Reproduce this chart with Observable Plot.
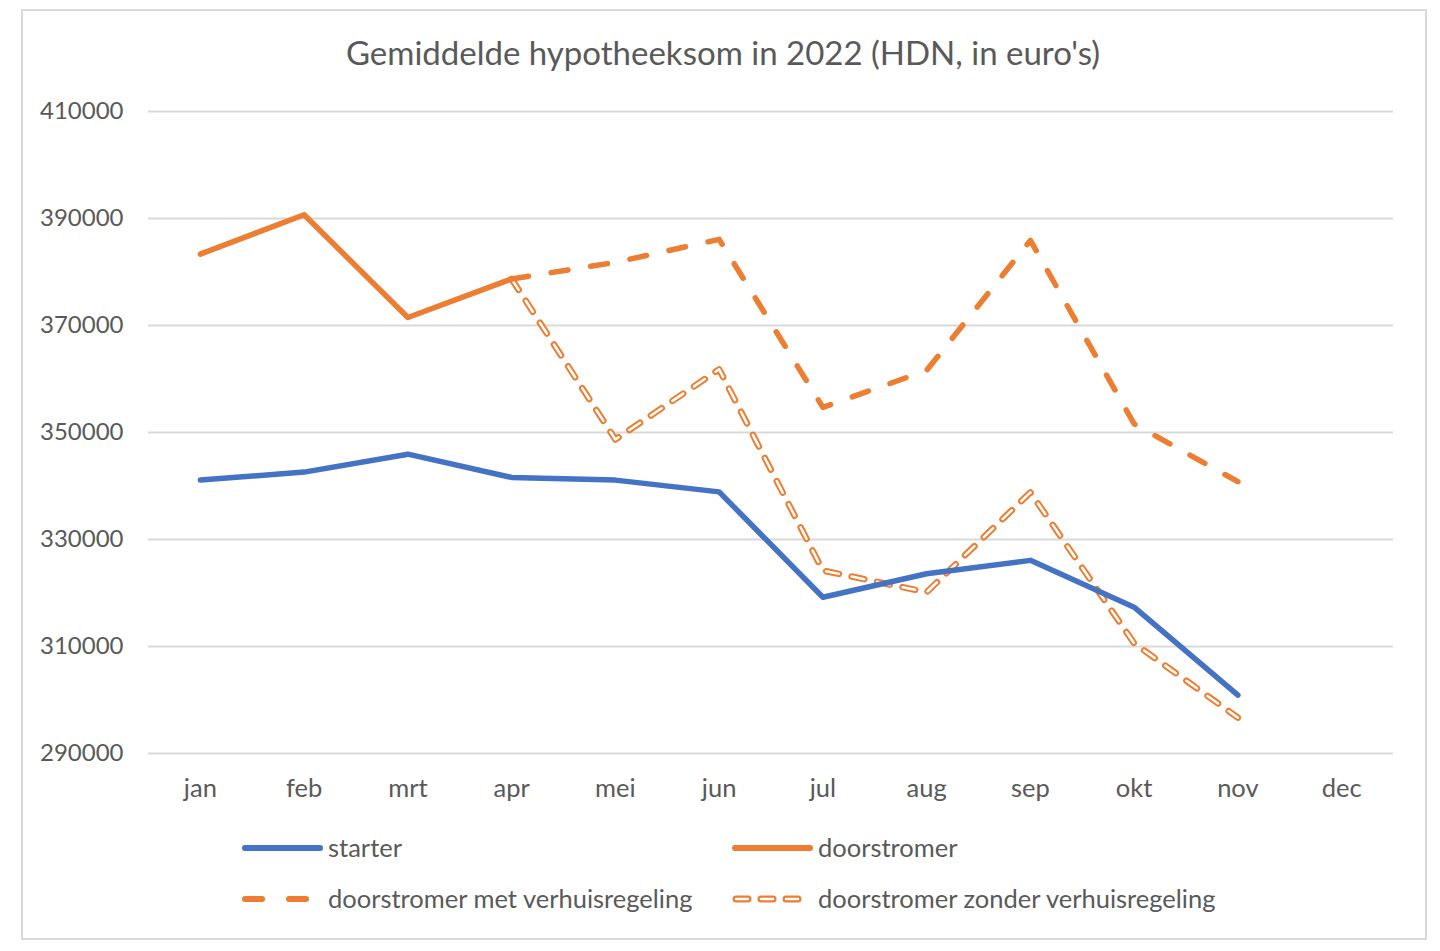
<!DOCTYPE html>
<html>
<head>
<meta charset="utf-8">
<script src="https://cdn.jsdelivr.net/npm/d3@7"></script>
<script src="https://cdn.jsdelivr.net/npm/@observablehq/plot@0.6"></script>
<style>
  html, body { margin: 0; padding: 0; background: #fff; }
  #wrap { position: relative; width: 1440px; height: 951px; font-family: Lato, "Open Sans", sans-serif; color: #595959; }
  #frame { position: absolute; left: 21px; top: 9px; width: 1402px; height: 927px; border: 2px solid #d9d9d9; box-sizing: content-box; }
  #title { position: absolute; left: 0; width: 1446px; top: 32px; text-align: center; font-size: 33px; line-height: 40px; color: #595959; }
  #chart { position: absolute; left: 0; top: 0; }
  #legend { position: absolute; left: 0; top: 0; }
</style>
</head>
<body>
<div id="wrap">
  <div id="frame"></div>
  <div id="chart"></div>
  <div id="title">Gemiddelde hypotheeksom in 2022 (HDN, in euro's)</div>
  <div id="legend"></div>
</div>
<script>
const months = ["jan", "feb", "mrt", "apr", "mei", "jun", "jul", "aug", "sep", "okt", "nov", "dec"];
const yTicks = [290000, 310000, 330000, 350000, 370000, 390000, 410000];
const starter = [341100, 342600, 345950, 341600, 341100, 338900, 319200, 323600, 326100, 317350, 300900, null];
const doorstromer = [383350, 390700, 371500, 378700, null, null, null, null, null, null, null, null];
const metVerhuis = [null, null, null, 378700, 381800, 386100, 354700, 361600, 385900, 351600, 340800, null];
const zonderVerhuis = [null, null, null, 378700, 348700, 361800, 324200, 320150, 338800, 310600, 296700, null];

const seriesNames = ["starter", "doorstromer", "doorstromer met verhuisregeling", "doorstromer zonder verhuisregeling"];
const seriesValues = [starter, doorstromer, metVerhuis, zonderVerhuis];

const rows = [];
seriesNames.forEach((name, i) => {
  seriesValues[i].forEach((v, j) => {
    if (v != null) rows.push({series: name, month: months[j], value: v});
  });
});
const sel = name => rows.filter(r => r.series === name);

const BLUE = "#4472c4", ORANGE = "#ed7d31", GRID = "#d9d9d9", TEXT = "#595959";

const plot = Plot.plot({
  width: 1440,
  height: 830,
  marginLeft: 148,
  marginRight: 47,
  marginTop: 111,
  marginBottom: 77,
  style: {fontFamily: "Lato, 'Open Sans', sans-serif", fontSize: "24px", color: TEXT, background: "transparent"},
  x: {type: "point", domain: months, padding: 0.5, round: false, label: null},
  y: {domain: [290000, 410000], label: null},
  marks: [
    Plot.gridY(yTicks, {stroke: GRID, strokeOpacity: 1, strokeWidth: 2}),
    Plot.axisY(yTicks, {tickSize: 0, tickPadding: 25, tickFormat: d3.format("d"), label: null, fill: TEXT}),
    Plot.axisX(months, {tickSize: 0, tickPadding: 25, label: null, fill: TEXT, fontSize: 25.5}),
    Plot.line(sel("doorstromer zonder verhuisregeling"), {x: "month", y: "value", stroke: ORANGE, strokeWidth: 6.5, strokeDasharray: "13,13", strokeLinecap: "round", strokeLinejoin: "round"}),
    Plot.line(sel("doorstromer zonder verhuisregeling"), {x: "month", y: "value", stroke: "#fff", strokeWidth: 2.5, strokeDasharray: "13,13", strokeLinecap: "round", strokeLinejoin: "round"}),
    Plot.line(sel("doorstromer met verhuisregeling"), {x: "month", y: "value", stroke: ORANGE, strokeWidth: 5.5, strokeDasharray: "17,23", strokeLinecap: "round", strokeLinejoin: "round"}),
    Plot.line(sel("doorstromer"), {x: "month", y: "value", stroke: ORANGE, strokeWidth: 5.5, strokeLinejoin: "round"}),
    Plot.line(sel("starter"), {x: "month", y: "value", stroke: BLUE, strokeWidth: 5.5, strokeLinejoin: "round"})
  ]
});
document.getElementById("chart").appendChild(plot);

// Legend
const legendItems = [
  {name: seriesNames[0], x: 243, y: 848, kind: "solid", color: BLUE},
  {name: seriesNames[1], x: 733, y: 848, kind: "solid", color: ORANGE},
  {name: seriesNames[2], x: 243, y: 899, kind: "dash", color: ORANGE},
  {name: seriesNames[3], x: 733, y: 899, kind: "double", color: ORANGE}
];
const svg = d3.select("#legend").append("svg").attr("width", 1440).attr("height", 951)
  .style("font-family", "Lato, 'Open Sans', sans-serif");
legendItems.forEach(it => {
  const g = svg.append("g");
  if (it.kind === "solid") {
    g.append("line").attr("x1", it.x + 2).attr("x2", it.x + 77).attr("y1", it.y).attr("y2", it.y)
      .attr("stroke", it.color).attr("stroke-width", 6).attr("stroke-linecap", "round");
  } else if (it.kind === "dash") {
    g.append("line").attr("x1", it.x + 2).attr("x2", it.x + 72).attr("y1", it.y).attr("y2", it.y)
      .attr("stroke", it.color).attr("stroke-width", 6).attr("stroke-linecap", "round").attr("stroke-dasharray", "17,27");
  } else {
    g.append("line").attr("x1", it.x + 3).attr("x2", it.x + 72).attr("y1", it.y).attr("y2", it.y)
      .attr("stroke", it.color).attr("stroke-width", 7).attr("stroke-linecap", "round").attr("stroke-dasharray", "12,13");
    g.append("line").attr("x1", it.x + 3).attr("x2", it.x + 72).attr("y1", it.y).attr("y2", it.y)
      .attr("stroke", "#fff").attr("stroke-width", 2.5).attr("stroke-linecap", "round").attr("stroke-dasharray", "12,13");
  }
  g.append("text").attr("x", it.x + 85).attr("y", it.y).attr("dy", "0.35em")
    .attr("fill", TEXT).attr("font-size", 25.5).text(it.name);
});
</script>
</body>
</html>
